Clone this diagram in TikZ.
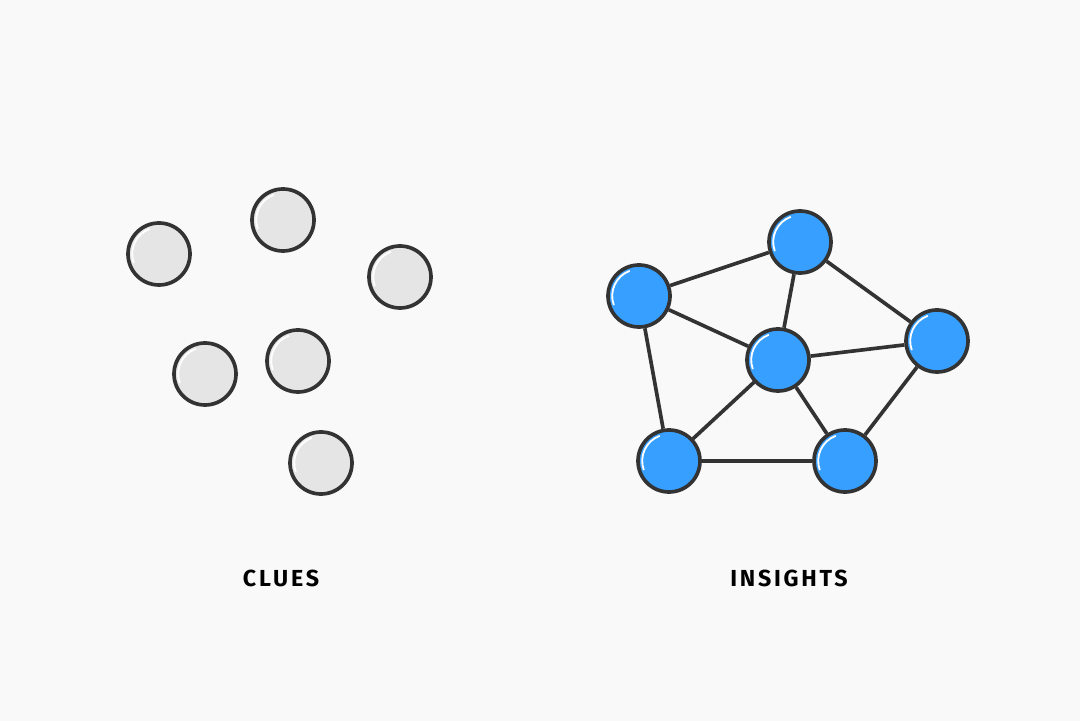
\documentclass[tikz,border=0pt]{standalone}
\usepackage{fontspec}
\setmainfont{Fira Sans}
\newfontfamily\labelfont[LetterSpace=12]{Fira Sans}
\usepackage{tikz}
\definecolor{bgcol}{HTML}{F9F9F9}
\definecolor{inkcol}{HTML}{333333}
\definecolor{cluecol}{HTML}{E5E5E5}
\definecolor{insightcol}{HTML}{379FFF}
\tikzstyle{dot} = [circle, minimum size=1.55cm, inner sep=0pt, draw=inkcol, line width=2.6pt,
  path picture={\draw[white, line width=1.3pt] (path picture bounding box.center) ++(110:0.67cm) arc (110:200:0.67cm);}]
\tikzstyle{clue} = [dot, fill=cluecol]
\tikzstyle{insight} = [dot, fill=insightcol]
\tikzstyle{link} = [draw=inkcol, line width=2.6pt]
\tikzstyle{caption} = [font=\labelfont\bfseries\fontsize{16.5}{18}\selectfont, text=black]

\begin{document}
\begin{tikzpicture}[x=0.025cm, y=-0.025cm]

\fill[bgcol] (0,0) rectangle (1080,721);

%% CLUES

\node (c1) [clue] at (159,254) {};
\node (c2) [clue] at (283,220) {};
\node (c3) [clue] at (400,277) {};
\node (c4) [clue] at (205,374) {};
\node (c5) [clue] at (298,361) {};
\node (c6) [clue] at (321,463) {};
\node (clues) [caption] at (281,578) {CLUES};

%% INSIGHTS

\node (i1) [insight] at (639,296) {};
\node (i2) [insight] at (800,242) {};
\node (i3) [insight] at (778,360) {};
\node (i4) [insight] at (937,341) {};
\node (i5) [insight] at (669,461) {};
\node (i6) [insight] at (845,461) {};
\node (insights) [caption] at (789,578) {INSIGHTS};

%% LINKS

\draw [link] (i1) -- (i2);
\draw [link] (i1) -- (i3);
\draw [link] (i1) -- (i5);
\draw [link] (i2) -- (i3);
\draw [link] (i2) -- (i4);
\draw [link] (i3) -- (i4);
\draw [link] (i3) -- (i5);
\draw [link] (i3) -- (i6);
\draw [link] (i5) -- (i6);
\draw [link] (i4) -- (i6);
\end{tikzpicture}
\end{document}
